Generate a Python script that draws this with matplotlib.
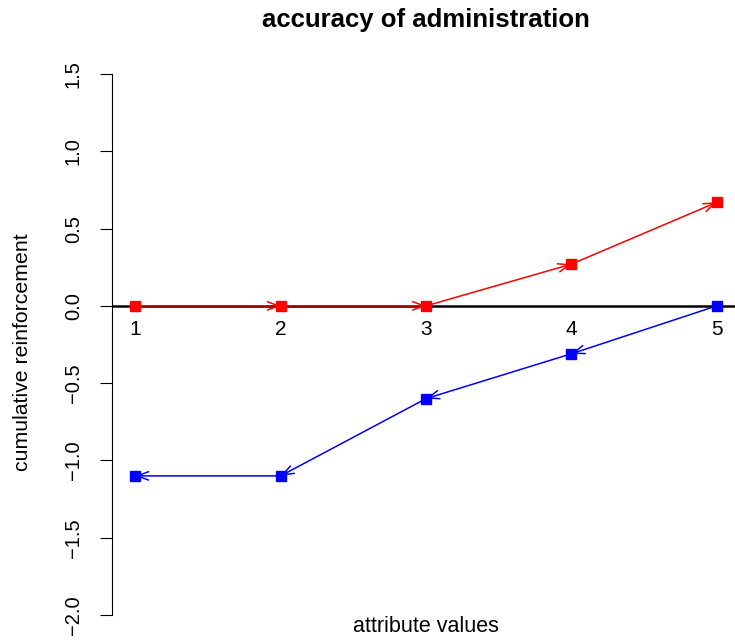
import matplotlib
matplotlib.use("Agg")
import matplotlib.pyplot as plt

plt.rcParams['font.family'] = ['Liberation Sans', 'DejaVu Sans']

x_vals = [1, 2, 3, 4, 5]
x_labels = ['1', '2', '3', '4', '5']
red_vals = [0.0, 0.0, 0.0, 0.27, 0.67]
blue_vals = [-1.1, -1.1, -0.6, -0.31, 0.0]
y_ticks = [-2.0, -1.5, -1.0, -0.5, 0.0, 0.5, 1.0, 1.5]

fig = plt.figure(figsize=(7.35, 6.43), dpi=100)
ax = fig.add_axes([0.1524, 0.0099, 0.8544, 0.9086])
ax.set_xlim(0.84, 5.16)
ax.set_ylim(-2.14, 1.64)

ax.axhline(0, color='black', lw=1.8, zorder=1)

# red: arrows point forward, blue: arrows point backward
head = '->,head_length=0.8,head_width=0.3'
for i in range(len(x_vals) - 1):
    ax.annotate('', xy=(x_vals[i + 1], red_vals[i + 1]), xytext=(x_vals[i], red_vals[i]),
                arrowprops=dict(arrowstyle=head, color='red', lw=1.1, shrinkA=0, shrinkB=0), zorder=2)
    ax.annotate('', xy=(x_vals[i], blue_vals[i]), xytext=(x_vals[i + 1], blue_vals[i + 1]),
                arrowprops=dict(arrowstyle=head, color='blue', lw=1.1, shrinkA=0, shrinkB=0), zorder=2)

ax.plot(x_vals, red_vals, 's', color='red', ms=7, zorder=3)
ax.plot(x_vals, blue_vals, 's', color='blue', ms=7, zorder=3)

for xv, lab in zip(x_vals, x_labels):
    ax.annotate(lab, (xv, 0), xytext=(0, -10), textcoords='offset points',
                ha='center', va='top', fontsize=15)

for s in ['top', 'right', 'bottom']:
    ax.spines[s].set_visible(False)
ax.spines['left'].set_bounds(-2.0, 1.5)
ax.set_xticks([])
ax.set_yticks(y_ticks)
ax.set_yticklabels([f'{t:.1f}'.replace('-', '\u2212') for t in y_ticks], rotation=90, va='center')
ax.tick_params(axis='y', length=9, labelsize=14.5, pad=12)

fig.text(0.03, 0.4526, 'cumulative reinforcement', rotation=90, ha='center', va='center', fontsize=15.3)
fig.text(0.58, 0.0249, 'attribute values', ha='center', va='center', fontsize=15.5)
fig.text(0.58, 0.969, 'accuracy of administration', ha='center', va='center', fontsize=18.5, fontweight='bold')

fig.savefig('out.png', dpi=100)
